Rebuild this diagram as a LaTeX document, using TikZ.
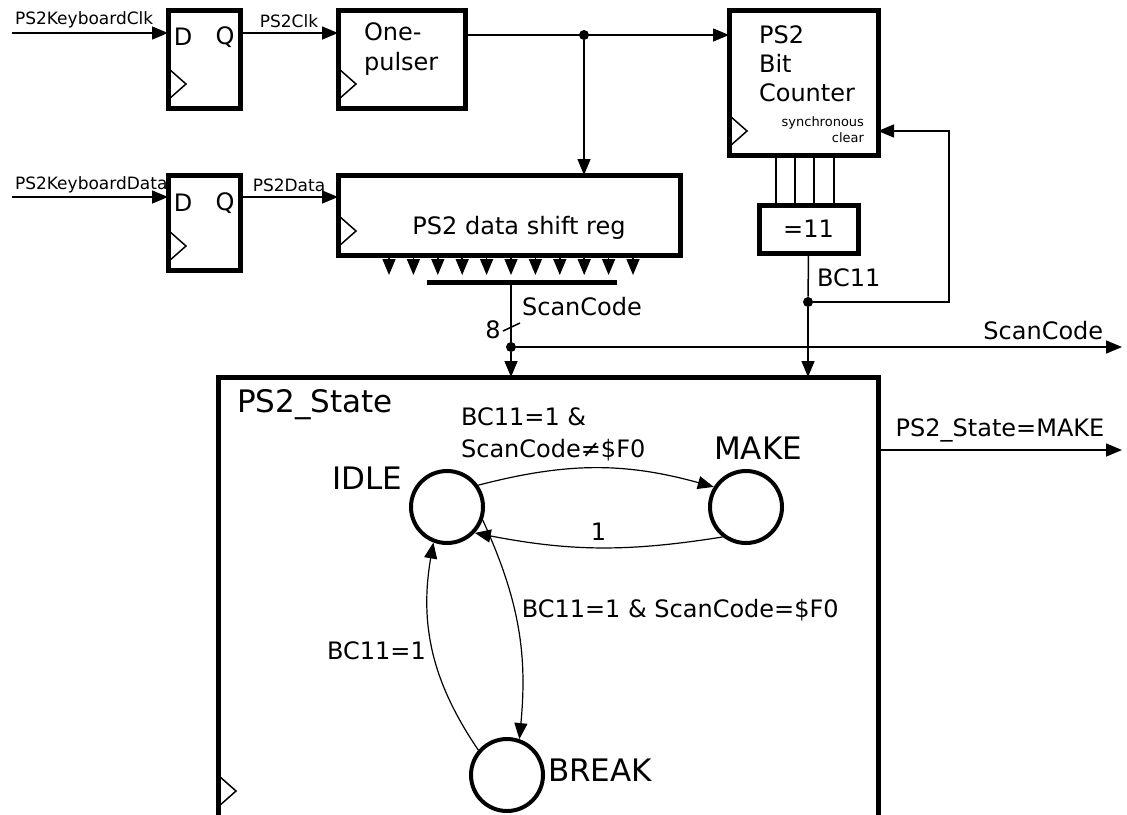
\documentclass[tikz,border=0pt]{standalone}
\usepackage{fontspec}
\setmainfont{DejaVu Sans}
\usetikzlibrary{arrows.meta,calc}

% clock input mark in the lower left corner of a block
\newcommand{\clocktri}[1]{\draw[wire] ($(#1.south west)+(1,9)$) -- ++(17,15) -- ++(-17,15);}

\begin{document}
\begin{tikzpicture}[x=0.5pt,y=0.5pt]
  \tikzset{block/.style={draw,line width=2.5pt,inner sep=0pt,outer sep=0pt,anchor=north west},
    state/.style={circle,draw,line width=2pt,minimum size=36pt,inner sep=0pt},
    wire/.style={line width=0.75pt},
    edge/.style={line width=0.6pt},
    arr/.style={-{Triangle[length=8pt,width=6.5pt]}},
    dot/.style={circle,fill,inner sep=0pt,minimum size=5pt},
    bigtext/.style={font=\fontsize{15.5}{18}\selectfont},
    midtext/.style={font=\fontsize{12}{15}\selectfont},
    smalltext/.style={font=\fontsize{8.5}{10}\selectfont},
    tinytext/.style={font=\fontsize{6.5}{8}\selectfont}}
  \useasboundingbox (0,0) rectangle (1127,-814);
  % blocks
  \node[block,minimum width=36pt,minimum height=49pt] (ff1) at (168,-10) {};
  \node[block,minimum width=63.5pt,minimum height=49pt] (pulser) at (338,-10) {};
  \node[block,minimum width=74.5pt,minimum height=72.5pt] (ctr) at (729,-10) {};
  \node[block,minimum width=36pt,minimum height=47.5pt] (ff2) at (168,-175) {};
  \node[block,minimum width=171pt,minimum height=40pt] (shreg) at (338,-175) {};
  \node[block,minimum width=49.5pt,minimum height=24pt] (eq) at (759,-205) {};
  \node[block,minimum width=330pt,minimum height=220.5pt] (fsm) at (218,-377) {};
  \clocktri{ff1}
  \clocktri{pulser}
  \clocktri{ctr}
  \clocktri{ff2}
  \clocktri{shreg}
  \draw[wire] ($(fsm.south west)+(1,12)$) -- ++(17,15) -- ++(-17,15);
  % block texts
  \node[midtext] (d1) at (183,-37) {D};
  \node[midtext] (q1) at (225,-37) {Q};
  \node[midtext] (d2) at (183,-203) {D};
  \node[midtext] (q2) at (225,-203) {Q};
  \node[midtext,align=left,anchor=north west] (pulsertxt) at (357,-16) {One-\\pulser};
  \node[midtext,align=left,anchor=north west,font=\fontsize{12}{14.3}\selectfont] (ctrtxt) at (752,-19) {PS2\\Bit\\Counter};
  \node[tinytext,align=right,anchor=east] (clrtxt) at (871,-130) {synchronous\\clear};
  \node[midtext] (shregtxt) at (519,-228) {PS2 data shift reg};
  \node[midtext] (eqtxt) at (eq) {=11};
  \node[bigtext,anchor=west] (fsmtxt) at (230,-405) {PS2\_State};
  % inputs
  \coordinate (clkin) at (12,-33);
  \coordinate (datin) at (12,-197);
  \node[smalltext,anchor=west] (clkinlbl) at (8,-20) {PS2KeyboardClk};
  \node[smalltext,anchor=west] (datinlbl) at (8,-185) {PS2KeyboardData};
  \draw[wire,arr] (clkin) -- (clkin -| ff1.west);
  \draw[wire,arr] (datin) -- (datin -| ff2.west);
  \draw[wire,arr] (ff1.east |- clkin) -- node[smalltext,above=-1pt] (clklbl) {PS2Clk} (pulser.west |- clkin);
  \draw[wire,arr] (ff2.east |- datin) -- node[smalltext,above=-1pt] (datlbl) {PS2Data} (shreg.west |- datin);
  % clock pulse
  \node[dot] (clkdot) at (584,-35) {};
  \draw[wire,arr] (pulser.east |- clkdot) -- (ctr.west |- clkdot);
  \draw[wire,arr] (clkdot) -- (clkdot |- shreg.north);
  % shift register outputs
  \foreach \i in {0,...,10}
    \draw[wire,arr] ($(shreg.south west)+(51+24.4*\i,-2)$) -- ++(0,-18);
  \coordinate (busL) at (427,-282);
  \coordinate (busR) at (617,-282);
  \coordinate (busM) at (511,-282);
  \draw[line width=2.5pt] (busL) -- (busR);
  \node[dot] (scdot) at (511,-347) {};
  \draw[wire] (busM) -- (scdot);
  \draw[wire,arr] (scdot) -- (scdot |- fsm.north);
  \draw[wire] ($(scdot)+(-8,16)$) -- ($(scdot)+(9,24)$);
  \node[midtext] (width) at (493,-330) {8};
  \node[midtext,anchor=west] (sclbl) at (515,-307) {ScanCode};
  \coordinate (scout) at (1122,-347);
  \draw[wire,arr] (scdot) -- node[midtext,pos=0.87,above] (scoutlbl) {ScanCode} (scout);
  % bit counter
  \foreach \x in {776,795,814,834}
    \draw[wire] (\x,0 |- ctr.south) -- (\x,0 |- eq.north);
  \node[dot] (bcdot) at (808,-302) {};
  \draw[wire] (eq.south) -- (bcdot);
  \draw[wire,arr] (bcdot) -- (bcdot |- fsm.north);
  \node[midtext,anchor=west] (bclbl) at (810,-278) {BC11};
  \coordinate (fbk) at (949,-131);
  \draw[wire,arr] (bcdot) -| (fbk) -- (fbk -| ctr.east);
  % state machine
  \node[state] (idle) at (447,-507) {};
  \node[state] (make) at (746,-507) {};
  \node[state] (brk) at (507,-775) {};
  \node[bigtext] (idlelbl) at (367,-478) {IDLE};
  \node[bigtext] (makelbl) at (758,-448) {MAKE};
  \node[bigtext] (brklbl) at (600,-770) {BREAK};
  \draw[edge,arr] (idle.35) to[bend left=15] (make.148);
  \node[midtext,align=left,anchor=west,font=\fontsize{12}{16}\selectfont] (mklbl) at (454,-434) {BC11=1 \&\\ScanCode≠\$F0};
  \draw[edge,arr] (make.232) to[bend left=10] node[midtext,above] (onelbl) {1} (idle.-43);
  \draw[edge,arr] (idle.-20) to[bend left=15] node[midtext,pos=0.42,right] (brkcond) {BC11=1 \& ScanCode=\$F0} (brk.71);
  \draw[edge,arr] (brk.139) to[bend left=22] node[midtext,left] (idlecond) {BC11=1} (idle.249);
  % state output
  \coordinate (stout) at (1122,-450);
  \draw[wire,arr] (fsm.east |- stout) -- node[midtext,above] (stlbl) {PS2\_State=MAKE} (stout);
\end{tikzpicture}
\end{document}
